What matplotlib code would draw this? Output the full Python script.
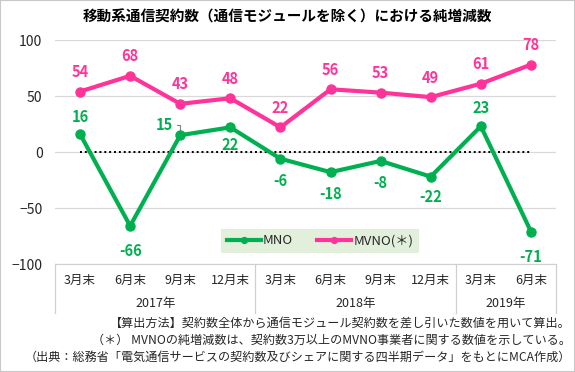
import matplotlib
matplotlib.use('Agg')
import matplotlib.pyplot as plt
import matplotlib.transforms as mtransforms
from matplotlib.patches import Rectangle

plt.rcParams['font.family'] = ['Noto Sans CJK JP', 'DejaVu Sans']

# data
quarters = ['3月末', '6月末', '9月末', '12月末',
            '3月末', '6月末', '9月末', '12月末',
            '3月末', '6月末']
years = ['2017年', '2018年', '2019年']
year_spans = [(0, 3), (4, 7), (8, 9)]
mno = [16, -66, 15, 22, -6, -18, -8, -22, 23, -71]
mvno = [54, 68, 43, 48, 22, 56, 53, 49, 61, 78]

GREEN = '#00B050'
PINK = '#FF3399'
TXT = '#262626'
LINE = '#d0d0d0'

fig = plt.figure(figsize=(5.75, 3.72), dpi=100)
ax = fig.add_axes([55 / 575, 1 - 264 / 372, 501 / 575, 224 / 372])

x = list(range(len(quarters)))
ax.plot(x, mno, color=GREEN, lw=3, marker='o', ms=6.5, label='MNO', zorder=4)
ax.plot(x, mvno, color=PINK, lw=3, marker='o', ms=6.5, label='MVNO(＊)', zorder=4)
# dotted zero line between first and last category
ax.hlines(0, x[0], x[-1], colors='black', linestyles=(0, (1, 1.5)), lw=1.4, zorder=3)

ax.set_xlim(-0.5, len(x) - 0.5)
ax.set_ylim(-100, 100)
ax.set_yticks([-100, -50, 0, 50, 100])
ax.yaxis.grid(True, color='#d9d9d9', lw=0.9)
ax.set_axisbelow(True)
for s in ['left', 'right', 'top']:
    ax.spines[s].set_visible(False)
ax.spines['bottom'].set_color(LINE)
ax.tick_params(axis='y', length=0, pad=9, labelsize=10, labelcolor=TXT)
ax.set_xticks([])

# category axis drawn as a small table
trans = mtransforms.blended_transform_factory(ax.transData, ax.transAxes)
for i, q in enumerate(quarters):
    ax.text(i, -0.072, q, transform=trans, ha='center', va='center',
            fontsize=9, color=TXT)
for yr, (a, b) in zip(years, year_spans):
    ax.text((a + b) / 2, -0.176, yr, transform=trans, ha='center', va='center',
            fontsize=9, color=TXT)
for b in [-0.5] + [s[1] + 0.5 for s in year_spans]:
    ax.plot([b, b], [0, -0.22], transform=trans, color=LINE, lw=0.9, clip_on=False)

# data labels
for i, v in enumerate(mvno):
    ax.annotate(str(v), (i, v), xytext=(0, 14), textcoords='offset points',
                ha='center', va='center', fontsize=10.5, fontweight='bold', color=PINK)

mno_dy = [12, -18, None, -13, -16, -16, -16, -15, 13, -18]
for i, v in enumerate(mno):
    if mno_dy[i] is None:
        ax.annotate(str(v), (i, v), xytext=(-5, 7), textcoords='offset points',
                    ha='right', va='center', fontsize=10.5, fontweight='bold', color=GREEN,
                    arrowprops=dict(arrowstyle='-', color='#808080', lw=0.8,
                                    shrinkA=1, shrinkB=3, relpos=(1, 0.5),
                                    connectionstyle='angle,angleA=0,angleB=90,rad=0'))
    else:
        ax.annotate(str(v), (i, v), xytext=(0, mno_dy[i]), textcoords='offset points',
                    ha='center', va='center', fontsize=10.5, fontweight='bold', color=GREEN)

leg = ax.legend(loc='center', bbox_to_anchor=((320 - 55) / 501, (264 - 241) / 224),
                ncol=2, fontsize=9.5, frameon=True, fancybox=False,
                facecolor='#E2EFDA', edgecolor='none', framealpha=1, markerscale=0.65,
                handlelength=2.6, columnspacing=1.8, handletextpad=0.15, borderpad=0.45)
for t in leg.get_texts():
    t.set_color(TXT)

fig.text(0.5, 1 - 17 / 372, '移動系通信契約数（通信モジュールを除く）における純増減数',
         ha='center', va='center', fontsize=10.5, fontweight='bold', color='black')

notes = ['【算出方法】契約数全体から通信モジュール契約数を差し引いた数値を用いて算出。',
         '（＊） MVNOの純増減数は、契約数3万以上のMVNO事業者に関する数値を示している。',
         '（出典：総務省「電気通信サービスの契約数及びシェアに関する四半期データ」をもとにMCA作成）']
for k, n in enumerate(notes):
    fig.text(571 / 575, 1 - (323 + 17 * k) / 372, n, ha='right', va='center',
             fontsize=8.7, color=TXT)

fig.patches.append(Rectangle((0, 0), 1, 1, transform=fig.transFigure, fill=False,
                             edgecolor='#c8c8c8', lw=1.5))

fig.savefig('out.png', dpi=100)
